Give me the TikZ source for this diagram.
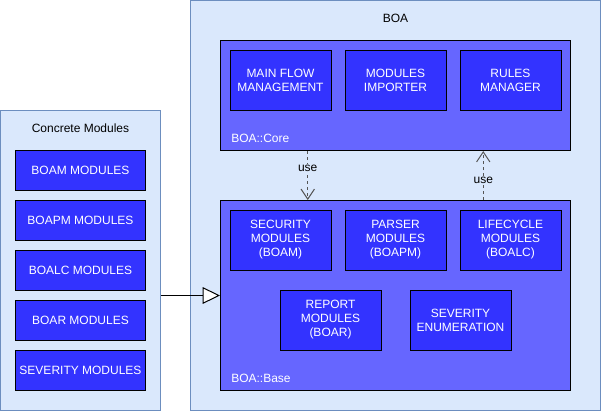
\documentclass[tikz,border=0pt]{standalone}
\usepackage{fontspec}
\setmainfont{Liberation Sans}
\usetikzlibrary{arrows.meta,calc}
\definecolor{bgblue}{HTML}{DAE8FC}
\definecolor{bgborder}{HTML}{6C8EBF}
\definecolor{midblue}{HTML}{6666FF}
\definecolor{darkblue}{HTML}{3333FF}
\definecolor{dashgray}{HTML}{555555}
\begin{document}
\begin{tikzpicture}[x=0.75pt,y=-0.75pt,
  container/.style={draw=bgborder, fill=bgblue, line width=0.75pt, inner sep=0pt},
  pkg/.style={draw=black, fill=midblue, line width=0.75pt, inner sep=0pt, minimum width=262.5pt},
  module/.style={draw=black, fill=darkblue, line width=0.75pt, text=white, align=center,
    font=\fontsize{9}{10.5}\selectfont, inner sep=0pt, minimum width=75.75pt, minimum height=45pt},
  cmodule/.style={module, minimum width=97.5pt, minimum height=30pt},
  title/.style={font=\fontsize{9}{10.5}\selectfont, text=black, inner sep=0pt},
  pkglabel/.style={font=\fontsize{9}{10.5}\selectfont, text=white, inner sep=0pt, anchor=west},
  usearrow/.style={draw=dashgray, line width=0.75pt, dash pattern=on 2.25pt off 2.25pt,
    -{Straight Barb[length=7.5pt,width=10pt,line width=0.75pt]}},
  uselabel/.style={fill=bgblue, text=black, font=\fontsize{9}{10.5}\selectfont, inner sep=1pt},
  inherit/.style={draw=black, line width=0.75pt, -{Triangle[length=13pt,width=12.5pt,fill=white,line width=0.75pt]}}
]
\useasboundingbox (0,0) rectangle (601,412);

% containers
\node[container, minimum width=307.5pt, minimum height=307.5pt] (boa) at (395.5,205.5) {};
\node[container, minimum width=120pt, minimum height=225pt] (concrete) at (80.5,260.5) {};
\node[pkg, minimum height=82.5pt] (core) at (395.5,95.5) {};
\node[pkg, minimum height=142.5pt] (base) at (395.5,295.5) {};

% titles
\node[title] (boatitle) at (395.5,18) {BOA};
\node[title] (ctitle) at (80.5,128) {Concrete Modules};
\node[pkglabel] (corelabel) at (231,138) {BOA::Core};
\node[pkglabel] (baselabel) at (231,378) {BOA::Base};

% core modules
\node[module] (mainflow) at (280.5,80) {MAIN FLOW\\MANAGEMENT};
\node[module] (importer) at (395.5,80) {MODULES\\IMPORTER};
\node[module] (rules) at (510.5,80) {RULES\\MANAGER};

% base modules
\node[module] (security) at (280.5,240) {SECURITY\\MODULES\\(BOAM)};
\node[module] (parser) at (395.5,240) {PARSER\\MODULES\\(BOAPM)};
\node[module] (lifecycle) at (510.5,240) {LIFECYCLE\\MODULES\\(BOALC)};
\node[module] (report) at (330.5,320) {REPORT\\MODULES\\(BOAR)};
\node[module] (sevenum) at (460.5,320) {SEVERITY\\ENUMERATION};

% concrete modules
\node[cmodule] (boam) at (80.5,170) {BOAM MODULES};
\node[cmodule] (boapm) at (80.5,220) {BOAPM MODULES};
\node[cmodule] (boalc) at (80.5,270) {BOALC MODULES};
\node[cmodule] (boar) at (80.5,320) {BOAR MODULES};
\node[cmodule] (sevmod) at (80.5,370) {SEVERITY MODULES};

% connectors
\draw[usearrow] ($(core.south west)!0.25!(core.south east)$) -- node[uselabel, pos=0.36] (use1) {use} ($(base.north west)!0.25!(base.north east)$);
\draw[usearrow] ($(base.north west)!0.75!(base.north east)$) -- node[uselabel, pos=0.4] (use2) {use} ($(core.south west)!0.75!(core.south east)$);
\draw[inherit] (base.west -| concrete.east) -- (base.west);
\end{tikzpicture}
\end{document}
